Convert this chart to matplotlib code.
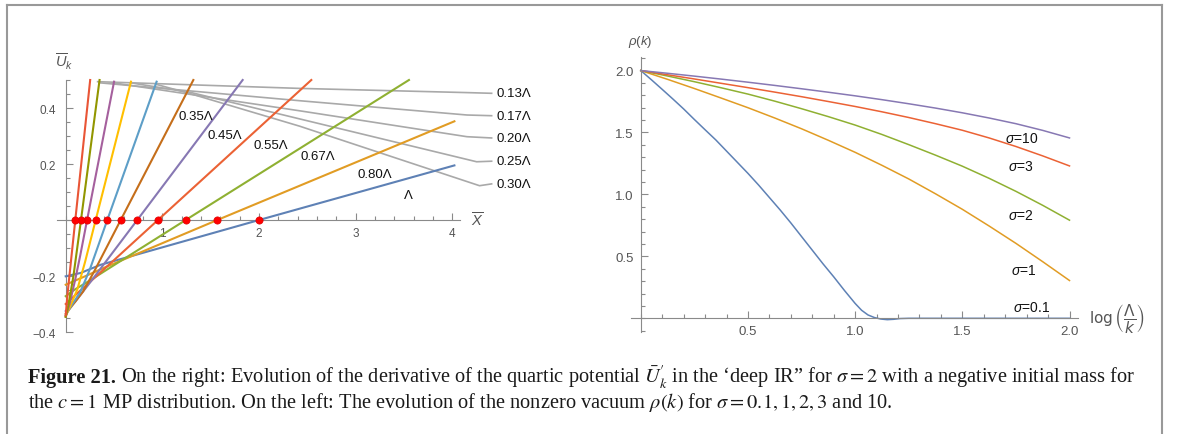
import matplotlib
matplotlib.use("Agg")
import matplotlib.pyplot as plt
from matplotlib.lines import Line2D
from matplotlib.ticker import FixedLocator, MultipleLocator

plt.rcParams['font.family'] = ['Liberation Sans', 'DejaVu Sans']
plt.rcParams['mathtext.fontset'] = 'custom'
plt.rcParams['mathtext.rm'] = 'Liberation Sans'
plt.rcParams['mathtext.it'] = 'Liberation Sans:italic'
plt.rcParams['mathtext.bf'] = 'Liberation Sans:bold'

# ---------------- left panel: U'_k(X) for several k ----------------
k_labels = ['Λ', '0.80Λ', '0.67Λ', '0.55Λ', '0.45Λ', '0.35Λ',
            '0.30Λ', '0.25Λ', '0.20Λ', '0.17Λ', '0.13Λ']
k_colors = ['#5E81B5', '#E19C24', '#8FB032', '#EB6235', '#8778B3', '#C56E1A',
            '#5D9EC7', '#FFBF00', '#A5609D', '#929600', '#E95536']
# zeros of each curve (red dots)
x_zero = [2.0, 1.568, 1.241, 0.954, 0.74, 0.569, 0.43, 0.31, 0.221, 0.158, 0.099]

curve_x = [
    [0, 0.155, 0.36, 2.0, 4.02],
    [0, 0.2, 0.4, 1.568, 4.02],
    [0, 0.1, 0.25, 0.45, 1.241, 3.55],
    [0, 0.05, 0.15, 0.3, 0.954, 2.54],
    [0, 0.1, 0.25, 0.74, 1.83],
    [0, 0.08, 0.18, 0.3, 0.569, 1.32],
    [0, 0.06, 0.15, 0.25, 0.43, 0.94],
    [0, 0.05, 0.12, 0.2, 0.31, 0.675],
    [0, 0.04, 0.1, 0.15, 0.221, 0.5],
    [0, 0.03, 0.08, 0.158, 0.35],
    [0, 0.02, 0.099, 0.253],
]
curve_y = [
    [-0.201, -0.189, -0.160, 0, 0.195],
    [-0.231, -0.201, -0.170, 0, 0.3525],
    [-0.272, -0.247, -0.216, -0.172, 0, 0.5],
    [-0.300, -0.284, -0.252, -0.206, 0, 0.5],
    [-0.325, -0.291, -0.224, 0, 0.5],
    [-0.335, -0.300, -0.255, -0.180, 0, 0.5],
    [-0.340, -0.305, -0.258, -0.176, 0, 0.494],
    [-0.343, -0.305, -0.248, -0.150, 0, 0.494],
    [-0.345, -0.300, -0.210, -0.127, 0, 0.494],
    [-0.346, -0.300, -0.200, 0, 0.5],
    [-0.340, -0.260, 0, 0.5],
]

# inline labels for the flatter curves
inline_labels = ['0.35Λ', '0.45Λ', '0.55Λ', '0.67Λ', '0.80Λ', 'Λ']
inline_x = [1.342, 1.647, 2.123, 2.604, 3.200, 3.547]
inline_y = [0.370, 0.304, 0.268, 0.227, 0.164, 0.089]

# callout leaders for the steep curves
callout_labels = ['0.13Λ', '0.17Λ', '0.20Λ', '0.25Λ', '0.30Λ']
callout_x = [
    [0.33, 2.42, 4.15, 4.405],
    [0.35, 2.42, 4.15, 4.405],
    [0.49, 2.42, 4.15, 4.405],
    [0.67, 1.30, 2.42, 4.25, 4.405],
    [0.93, 1.30, 2.42, 4.28, 4.405],
]
callout_y = [
    [0.494, 0.470, 0.455, 0.4525],
    [0.490, 0.426, 0.375, 0.3725],
    [0.490, 0.390, 0.2975, 0.293],
    [0.490, 0.455, 0.361, 0.208, 0.210],
    [0.485, 0.450, 0.335, 0.1225, 0.129],
]

# ---------------- right panel: rho(k) vs log(Lambda/k) ----------------
sigma_labels = ['$\\sigma$=0.1', '$\\sigma$=1', '$\\sigma$=2', '$\\sigma$=3', '$\\sigma$=10']
sigma_colors = ['#5E81B5', '#E19C24', '#8FB032', '#EB6235', '#8778B3']
t_grid = [0, 0.125, 0.25, 0.375, 0.5, 0.625, 0.75, 0.875, 1.0,
          1.125, 1.25, 1.375, 1.5, 1.625, 1.75, 1.875, 2.0]
rho_s1 = [2.0, 1.929, 1.855, 1.778, 1.700, 1.617, 1.530, 1.437, 1.340,
          1.235, 1.125, 1.005, 0.880, 0.745, 0.605, 0.457, 0.305]
rho_s2 = [2.0, 1.956, 1.910, 1.861, 1.810, 1.753, 1.692, 1.628, 1.560,
          1.484, 1.402, 1.317, 1.228, 1.130, 1.025, 0.912, 0.792]
rho_s3 = [2.0, 1.966, 1.932, 1.897, 1.862, 1.826, 1.789, 1.750, 1.710,
          1.667, 1.621, 1.571, 1.518, 1.456, 1.387, 1.311, 1.230]
rho_s10 = [2.0, 1.978, 1.955, 1.931, 1.906, 1.880, 1.853, 1.825, 1.796,
           1.765, 1.732, 1.697, 1.659, 1.617, 1.571, 1.517, 1.456]
t_s01 = [0, 0.05, 0.1, 0.15, 0.2, 0.25, 0.3, 0.35, 0.4, 0.45, 0.5, 0.55, 0.6,
         0.65, 0.7, 0.75, 0.8, 0.85, 0.9, 0.95, 1.0, 1.03, 1.06, 1.09, 1.12,
         1.15, 1.18, 1.21, 1.25, 2.0]
rho_s01 = [2.0, 1.925, 1.848, 1.77, 1.69, 1.605, 1.522, 1.44, 1.35, 1.26, 1.17,
           1.075, 0.975, 0.875, 0.77, 0.66, 0.55, 0.44, 0.335, 0.225, 0.12,
           0.065, 0.027, 0.006, -0.006, -0.011, -0.008, -0.002, 0.0, 0.0]

sigma_lab_x = [1.821, 1.788, 1.775, 1.771, 1.778]
sigma_lab_y = [0.095, 0.390, 0.834, 1.226, 1.455]

W, H = 1179, 435
AX_COL = '#8a8a8a'
LAB_COL = '#555555'

fig = plt.figure(figsize=(W / 100, H / 100), dpi=100)


def axes_px(x0, y0, x1, y1):
    return fig.add_axes([x0 / W, 1 - y1 / H, (x1 - x0) / W, (y1 - y0) / H])


def text_px(x, y, s, **kw):
    return fig.text(x / W, 1 - y / H, s, **kw)


def mathematica_axes(ax, size, xpad, ypad):
    for side in ('top', 'right'):
        ax.spines[side].set_visible(False)
    for side in ('left', 'bottom'):
        ax.spines[side].set_position(('data', 0))
        ax.spines[side].set_color(AX_COL)
        ax.spines[side].set_linewidth(0.8)
    ax.tick_params(which='both', direction='in', color=AX_COL, width=0.8,
                   labelcolor=LAB_COL, labelsize=size)
    ax.tick_params(which='major', length=5)
    ax.tick_params(which='minor', length=2.8)
    ax.tick_params(axis='x', pad=xpad)
    ax.tick_params(axis='y', pad=ypad)
    ax.patch.set_visible(False)


# left axes
axL = axes_px(57.3, 81, 460.2, 333.3)
axL.set_xlim(-0.087, 4.08)
axL.set_ylim(-0.401, 0.5)
mathematica_axes(axL, 8.5, 5.0, 7.0)
axL.xaxis.set_major_locator(FixedLocator([1, 2, 3, 4]))
axL.xaxis.set_minor_locator(MultipleLocator(0.2))
axL.yaxis.set_major_locator(FixedLocator([-0.4, -0.2, 0.2, 0.4]))
axL.yaxis.set_minor_locator(MultipleLocator(0.05))

for xs, ys in zip(callout_x, callout_y):
    axL.plot(xs, ys, color='#a9a9a9', lw=1.2, clip_on=False, zorder=2)
for xs, ys, c in zip(curve_x, curve_y, k_colors):
    axL.plot(xs, ys, color=c, lw=1.5, clip_on=False, zorder=3)
axL.plot(x_zero, [0] * len(x_zero), 'o', color='#ff0000', ms=5.2, mec='#e00000',
         mew=0.5, clip_on=False, zorder=5)

for s, x, y in zip(inline_labels, inline_x, inline_y):
    axL.text(x, y, s, ha='center', va='center', fontsize=9.5, color='#111111')
for s, ys in zip(callout_labels, callout_y):
    axL.text(4.455, ys[-1], s, ha='left', va='center', fontsize=9.5,
             color='#111111', clip_on=False)

text_px(64, 62, r'$\overline{U}_k$', ha='center', va='center', fontsize=10.5, color=LAB_COL)
text_px(477, 221, r'$\overline{X}$', ha='center', va='center', fontsize=10.5, color=LAB_COL)

# right axes
axR = axes_px(630.7, 58.3, 1078.3, 333.3)
axR.set_xlim(-0.047, 2.041)
axR.set_ylim(-0.113, 2.107)
mathematica_axes(axR, 9.5, 4.5, 5.0)
axR.xaxis.set_major_locator(FixedLocator([0.5, 1.0, 1.5, 2.0]))
axR.xaxis.set_minor_locator(MultipleLocator(0.1))
axR.yaxis.set_major_locator(FixedLocator([0.5, 1.0, 1.5, 2.0]))
axR.yaxis.set_minor_locator(MultipleLocator(0.1))

axR.plot(t_s01, rho_s01, color=sigma_colors[0], lw=1.1, clip_on=False)
for ys, c in zip([rho_s1, rho_s2, rho_s3, rho_s10], sigma_colors[1:]):
    axR.plot(t_grid, ys, color=c, lw=1.1, clip_on=False)
for s, x, y in zip(sigma_labels, sigma_lab_x, sigma_lab_y):
    axR.text(x, y, s, ha='center', va='center', fontsize=10, color='#111111')

text_px(640, 42, r'$\rho(k)$', ha='center', va='center', fontsize=9.5, color=LAB_COL)
text_px(1089, 319, r'$\log\left(\dfrac{\Lambda}{k}\right)$', ha='left', va='center',
        fontsize=11, color=LAB_COL, math_fontfamily='dejavusans')

# figure frame
frame = dict(color='#999999', lw=1.5, transform=fig.transFigure)
fig.add_artist(Line2D([7 / W, 7 / W], [0, 1 - 6 / H], **frame))
fig.add_artist(Line2D([7 / W, 1162 / W], [1 - 6 / H, 1 - 6 / H], **frame))
fig.add_artist(Line2D([1162 / W, 1162 / W], [0, 1 - 6 / H], **frame))

# caption
cap = dict(family=['Liberation Serif', 'DejaVu Serif'], math_fontfamily='stix',
           color='#1a1a1a', va='baseline')
line1 = (r" On the right: Evolution of the derivative of the quartic potential "
         r"$\bar{U}_k^{\prime}$ in the ‘deep IR” for $\sigma = 2$ with a negative initial mass for")
line2 = (r"the $c = 1$ MP distribution. On the left: The evolution of the nonzero "
         r"vacuum $\rho(k)$ for $\sigma = 0.1, 1, 2, 3$ and 10.")
fs = 12
x_start, x_end = 28, 1135
t_bold = text_px(x_start, 383, 'Figure 21.', fontweight='bold', fontsize=fs, **cap)
t_rest = text_px(x_start, 383, line1, fontsize=fs, **cap)
t_two = text_px(x_start, 408, line2, fontsize=fs, **cap)

renderer = fig.canvas.get_renderer()
width = (t_bold.get_window_extent(renderer).width
         + t_rest.get_window_extent(renderer).width)
fs = fs * (x_end - x_start) / width
for t in (t_bold, t_rest, t_two):
    t.set_fontsize(fs)
bb = t_bold.get_window_extent(renderer)
t_rest.set_x(bb.x1 / W)

fig.savefig('out.png', dpi=100)
